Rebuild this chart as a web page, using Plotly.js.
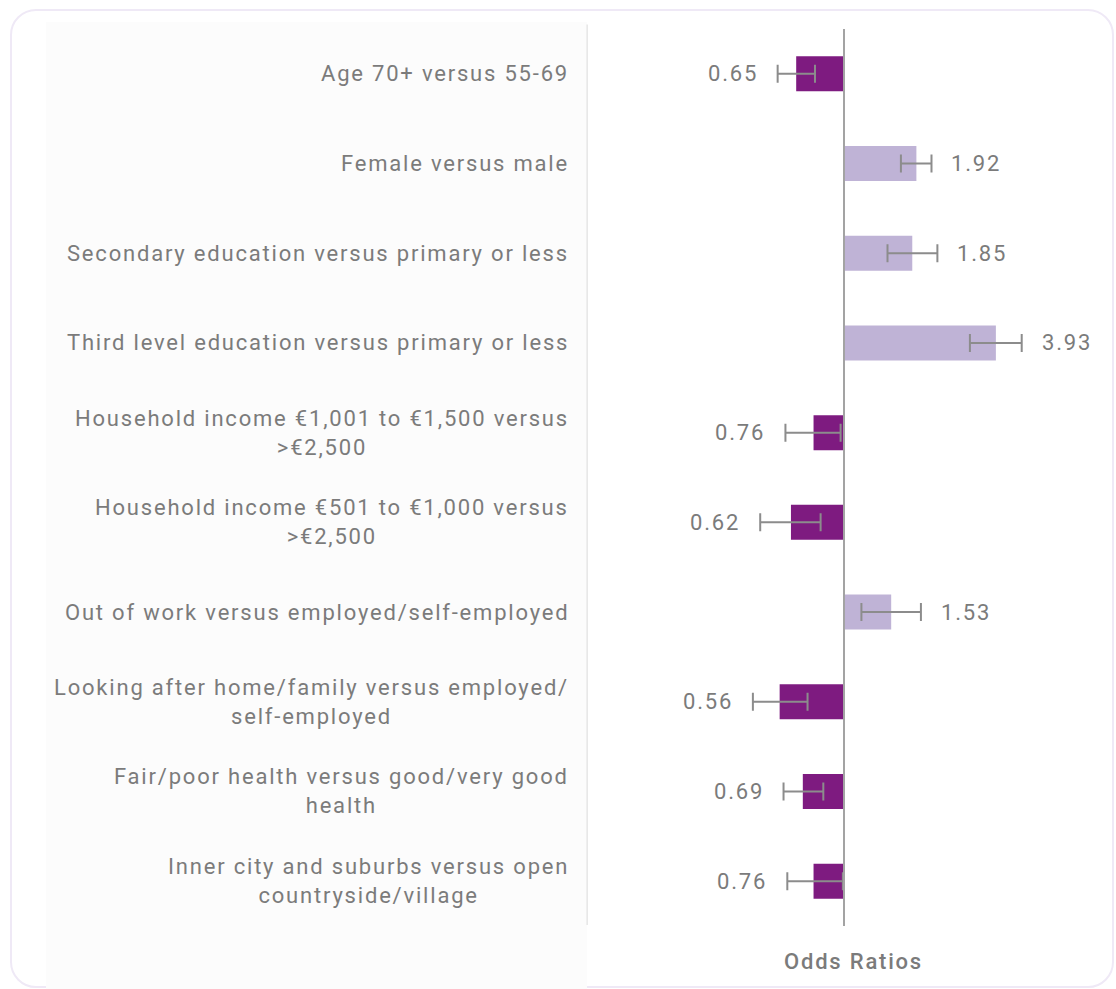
<!DOCTYPE html>
<html>
<head>
<meta charset="utf-8">
<script src="https://cdn.plot.ly/plotly-3.0.1.min.js"></script>
<style>
  html, body { margin: 0; padding: 0; background: #ffffff; }
  svg text { letter-spacing: 1.8px; }
  #card { position: absolute; left: 10px; top: 9px; width: 1100px; height: 975px;
          border: 2px solid #efe9f6; border-radius: 26px; background: #ffffff; }
  #panel { position: absolute; left: 46px; top: 22px; width: 541px; height: 967px; background: #fcfcfc; }
  #chart { position: absolute; left: 0; top: 0; width: 1116px; height: 989px; }
</style>
</head>
<body>
<div id="card"></div>
<div id="panel"></div>
<div id="chart"></div>
<script>
// ---- data ----
var categories = [
  "Age 70+ versus 55-69",
  "Female versus male",
  "Secondary education versus primary or less",
  "Third level education versus primary or less",
  "Household income €1,001 to €1,500 versus<br>>€2,500",
  "Household income €501 to €1,000 versus<br>>€2,500",
  "Out of work versus employed/self-employed",
  "Looking after home/family versus employed/<br>self-employed",
  "Fair/poor health versus good/very good<br>health",
  "Inner city and suburbs versus open<br>countryside/village"
];
var oddsRatios = [0.65, 1.92, 1.85, 3.93, 0.76, 0.62, 1.53, 0.56, 0.69, 0.76];
var ciLower    = [0.55, 1.67, 1.48, 3.11, 0.59, 0.47, 1.17, 0.44, 0.58, 0.60];
var ciUpper    = [0.77, 2.20, 2.32, 4.96, 0.97, 0.81, 2.00, 0.72, 0.83, 0.99];
var valueLabels = ["0.65", "1.92", "1.85", "3.93", "0.76", "0.62", "1.53", "0.56", "0.69", "0.76"];
var axisTitle = "Odds Ratios";

// ---- styles ----
var darkPurple = "#7e1b80";
var lightPurple = "#bfb3d6";
var textGray = "#7b7b7b";
var fontFamily = "Roboto, 'DejaVu Sans', sans-serif";
var fontSize = 22;

var barColors = oddsRatios.map(function (v) { return v < 1 ? darkPurple : lightPurple; });

var bars = {
  type: "bar",
  orientation: "h",
  y: categories,
  base: 1,
  x: oddsRatios.map(function (v) { return v - 1; }),
  width: 0.39,
  marker: { color: barColors, line: { width: 0 } },
  hoverinfo: "skip"
};

var errors = {
  type: "scatter",
  mode: "markers",
  y: categories,
  x: oddsRatios,
  marker: { size: 1, color: "rgba(0,0,0,0)" },
  error_x: {
    type: "data",
    symmetric: false,
    array: ciUpper.map(function (u, i) { return u - oddsRatios[i]; }),
    arrayminus: ciLower.map(function (l, i) { return oddsRatios[i] - l; }),
    color: "#8c8c8c",
    thickness: 2,
    width: 9
  },
  hoverinfo: "skip"
};

var annotations = [];
categories.forEach(function (c, i) {
  annotations.push({
    xref: "paper", yref: "y", x: -0.036, y: c,
    xanchor: "right", yanchor: "middle", align: "center",
    text: c, showarrow: false,
    font: { family: fontFamily, size: fontSize, color: textGray }
  });
  var left = oddsRatios[i] < 1;
  annotations.push({
    xref: "x", yref: "y",
    x: Math.log10(left ? ciLower[i] : ciUpper[i]), y: c,
    xanchor: left ? "right" : "left", yanchor: "middle",
    xshift: left ? -18 : 18,
    text: valueLabels[i], showarrow: false,
    font: { family: fontFamily, size: fontSize, color: textGray }
  });
});
annotations.push({
  xref: "paper", yref: "paper", x: 0.506, y: -0.04,
  xanchor: "center", yanchor: "middle",
  text: axisTitle, showarrow: false,
  font: { family: fontFamily, size: fontSize, color: textGray, weight: 500 }
});

var layout = {
  width: 1116, height: 989,
  margin: { l: 590, r: 6, t: 29, b: 63 },
  paper_bgcolor: "rgba(0,0,0,0)",
  plot_bgcolor: "rgba(0,0,0,0)",
  showlegend: false,
  xaxis: {
    type: "log", range: [-0.994, 1.041],
    showgrid: false, zeroline: false, showline: false,
    showticklabels: false, ticks: "", fixedrange: true
  },
  yaxis: {
    type: "category", categoryorder: "array", categoryarray: categories,
    range: [9.5, -0.5],
    showgrid: false, zeroline: false, showline: false,
    showticklabels: false, ticks: "", fixedrange: true
  },
  shapes: [
    { type: "line", xref: "x", yref: "paper", x0: 1, x1: 1, y0: 0, y1: 1,
      line: { color: "#a3a3a3", width: 2 }, layer: "above" },
    { type: "line", xref: "paper", yref: "paper", x0: -0.0055, x1: -0.0055, y0: 0.001, y1: 1.005,
      line: { color: "#e6e6e6", width: 1.5 } }
  ],
  annotations: annotations
};

Plotly.newPlot("chart", [bars, errors], layout, { displayModeBar: false, staticPlot: true });
</script>
</body>
</html>
